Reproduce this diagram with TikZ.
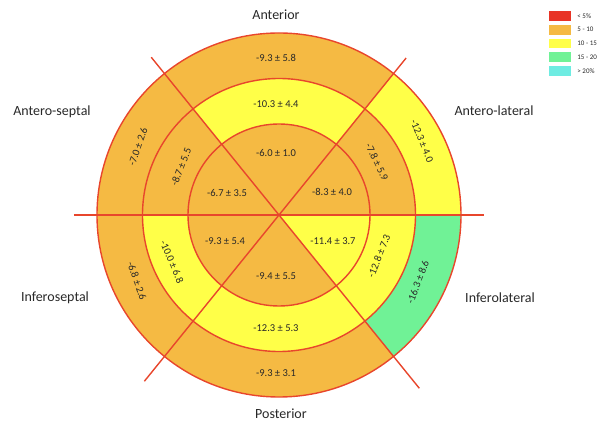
\documentclass[tikz,border=0pt]{standalone}
\usepackage{fontspec}
\setmainfont{Carlito}
\definecolor{segorange}{RGB}{245,186,67}
\definecolor{segyellow}{RGB}{255,255,72}
\definecolor{seggreen}{RGB}{112,242,150}
\definecolor{segcyan}{RGB}{110,236,226}
\definecolor{segred}{RGB}{232,52,38}
\definecolor{segline}{RGB}{232,70,44}
\definecolor{inkgray}{RGB}{40,40,40}

\begin{document}
\begin{tikzpicture}[x=1pt,y=1pt,
  ring/.style={line width=1.4pt, draw=segline},
  val/.style={font=\fontsize{10.5}{12}\selectfont, text=inkgray, inner sep=0pt},
  wall/.style={font=\fontsize{14}{16}\selectfont, text=inkgray, inner sep=0pt},
  key/.style={minimum width=22pt, minimum height=9.6pt, inner sep=0pt},
  keytext/.style={anchor=west, font=\fontsize{7}{8}\selectfont, text=inkgray, inner sep=0pt}]
  \useasboundingbox (-279,-210) rectangle (318,215);

  % segments
  \fill[segorange] (0,0) circle[radius=182];
  \foreach \ra/\rb/\aa/\ab/\col in {136.5/182/0/51/segyellow, 136.5/182/-51/0/seggreen,
      91/136.5/51/129/segyellow, 91/136.5/180/360/segyellow}
    \fill[\col] (\aa:\ra) arc[start angle=\aa, end angle=\ab, radius=\ra]
      -- (\ab:\rb) arc[start angle=\ab, end angle=\aa, radius=\rb] -- cycle;
  \fill[segyellow] (0,0) -- (-51:91) arc[start angle=-51, end angle=0, radius=91] -- cycle;

  % spokes and rings
  \coordinate (w) at (-205,0);
  \coordinate (e) at (205,0);
  \coordinate (nw) at (129:203);
  \coordinate (se) at (-51:223);
  \coordinate (ne) at (51:202);
  \coordinate (sw) at (231:214);
  \draw[ring] (w) -- (e);
  \draw[ring] (nw) -- (se);
  \draw[ring] (ne) -- (sw);
  \draw[ring] (0,0) circle[radius=91] circle[radius=136.5] circle[radius=182];

  % apex
  \node[val] (apant) at (-3,62) {-6.0 ± 1.0};
  \node[val] (apas) at (-52,22) {-6.7 ± 3.5};
  \node[val] (apal) at (53,23) {-8.3 ± 4.0};
  \node[val] (apis) at (-54,-26) {-9.3 ± 5.4};
  \node[val] (apil) at (54,-26) {-11.4 ± 3.7};
  \node[val] (appos) at (-3,-61) {-9.4 ± 5.5};
  % mid
  \node[val] (midant) at (-3,111) {-10.3 ± 4.4};
  \node[val, rotate=69] (midas) at (-98,48) {-8.7 ± 5.5};
  \node[val, rotate=-64] (midal) at (98,53) {-7.8 ± 5.9};
  \node[val, rotate=-67] (midis) at (-107,-47) {-10.0 ± 6.8};
  \node[val, rotate=68] (midil) at (100,-41) {-12.8 ± 7.3};
  \node[val] (midpos) at (-3,-113) {-12.3 ± 5.3};
  % base
  \node[val] (basant) at (-3,157) {-9.3 ± 5.8};
  \node[val, rotate=71] (basas) at (-141,68) {-7.0 ± 2.6};
  \node[val, rotate=-68] (basal) at (143,74) {-12.3 ± 4.0};
  \node[val, rotate=-71] (basis) at (-142,-66) {-6.8 ± 2.6};
  \node[val, rotate=69] (basil) at (139,-67) {-16.3 ± 8.6};
  \node[val] (baspos) at (-3,-158) {-9.3 ± 3.1};

  % walls
  \node[wall] (ant) at (-3,200) {Anterior};
  \node[wall] (antsep) at (-227,103) {Antero-septal};
  \node[wall] (antlat) at (215,104) {Antero-lateral};
  \node[wall] (infsep) at (-224,-83) {Inferoseptal};
  \node[wall] (inflat) at (221,-83) {Inferolateral};
  \node[wall] (post) at (2,-199) {Posterior};

  % legend
  \foreach \c/\t [count=\i from 0] in {segred/{< 5\%}, segorange/{5 - 10},
      segyellow/{10 - 15}, seggreen/{15 - 20}, segcyan/{> 20\%}} {
    \node[key, fill=\c] (key\i) at (281,{199-13.75*\i}) {};
    \node[keytext] (lab\i) at ([xshift=6pt]key\i.east) {\t};
  }
\end{tikzpicture}
\end{document}
